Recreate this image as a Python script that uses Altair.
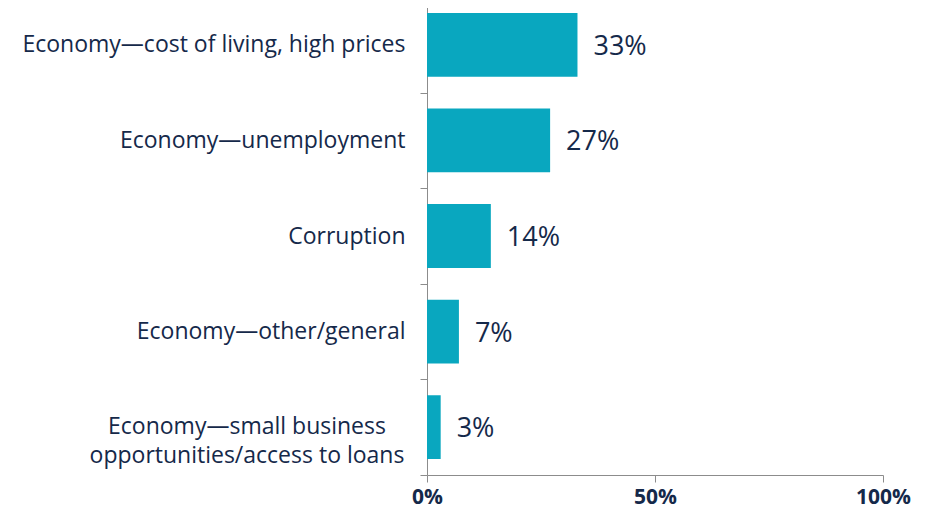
import altair as alt
import pandas as pd

categories = [
    "Economy—cost of living, high prices",
    "Economy—unemployment",
    "Corruption",
    "Economy—other/general",
    "Economy—small business\nopportunities/access to loans",
]
values = [33, 27, 14, 7, 3]

x_ticks = [0, 50, 100]

df = pd.DataFrame({"category": categories, "value": values})

NAVY = "#15294A"
TEAL = "#09A7BF"
GRAY = "#8C8C8C"
FONT = "Open Sans"
TWO_LINE = "indexof(datum.label, '\\n') >= 0"

y_enc = alt.Y(
    "category:N",
    sort=categories,
    title=None,
    scale=alt.Scale(paddingInner=0, paddingOuter=0),
    axis=alt.Axis(
        tickBand="extent",
        domainColor=GRAY,
        tickColor=GRAY,
        tickSize=7,
        labelFont=FONT,
        labelFontSize=23,
        labelColor=NAVY,
        labelLimit=500,
        labelPadding=15,
        labelExpr=f"{TWO_LINE} ? '' : datum.label",
    ),
)

x_enc = alt.X(
    "value:Q",
    title=None,
    scale=alt.Scale(domain=[0, 100]),
    axis=alt.Axis(
        values=x_ticks,
        labelExpr="datum.value + '%'",
        grid=False,
        domainColor=GRAY,
        tickColor=GRAY,
        tickSize=7,
        labelFont=FONT,
        labelFontSize=21,
        labelFontWeight="bold",
        labelColor=NAVY,
        labelPadding=4,
        labelFlush=False,
    ),
)

base = alt.Chart(df).transform_calculate(label="datum.value + '%'").encode(x=x_enc, y=y_enc)

bars = base.mark_bar(color=TEAL, height=alt.RelativeBandSize(band=0.667))

labels = base.mark_text(
    align="left", baseline="middle", dx=16, dy=2, font=FONT, fontSize=27, color=NAVY
).encode(text="label:N")

# the two-line category label is centred on itself, as in the reference
wrapped = (
    alt.Chart(df)
    .transform_filter("indexof(datum.category, '\\n') >= 0")
    .mark_text(
        align="center", baseline="middle", lineBreak="\n", lineHeight=29,
        dx=-180, font=FONT, fontSize=23, color=NAVY,
    )
    .encode(x=alt.value(0), y=alt.Y("category:N", sort=categories), text="category:N")
)

chart = (
    alt.layer(bars, labels, wrapped)
    .properties(
        width=456,
        height=478,
        autosize=alt.AutoSizeParams(type="none"),
        padding={"left": 419, "top": -11, "right": 36, "bottom": 34},
    )
    .configure(background="white", view=alt.ViewConfig(strokeWidth=0))
)

chart.save("out.html", embed_options={"renderer": "svg", "actions": False})
